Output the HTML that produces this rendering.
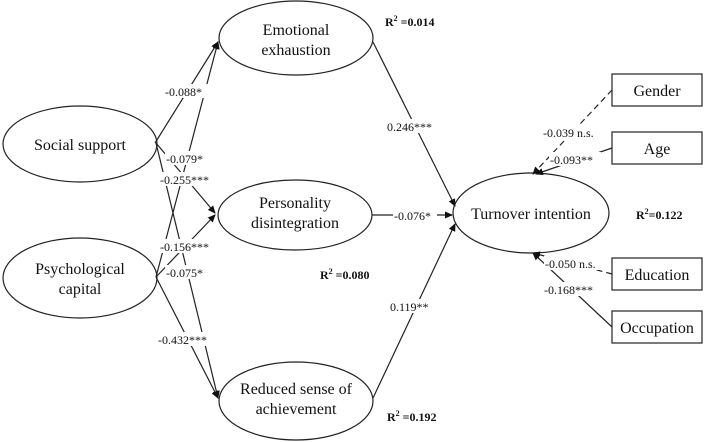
<!DOCTYPE html>
<html><head><meta charset="utf-8"><style>
body{margin:0;background:#fff}
svg{display:block}
text{font-family:"Liberation Serif",serif;fill:#111}
.n{font-size:16px;text-anchor:middle}
.l{font-size:12px}
.b{font-size:12px;font-weight:bold}
</style></head><body>
<svg width="708" height="442" viewBox="0 0 708 442" xmlns="http://www.w3.org/2000/svg">
<defs><marker id="a" markerWidth="8" markerHeight="8" refX="7" refY="4" orient="auto" markerUnits="userSpaceOnUse"><path d="M0,0.5 L8,4 L0,7.5z" fill="#111"/></marker></defs>
<g fill="none" stroke="#222" stroke-width="1.2">
<ellipse cx="296" cy="38" rx="77" ry="37"/>
<ellipse cx="295" cy="215" rx="77" ry="35"/>
<ellipse cx="296" cy="401" rx="77" ry="39"/>
<ellipse cx="80" cy="144" rx="77" ry="38"/>
<ellipse cx="80" cy="278" rx="77" ry="40"/>
<ellipse cx="531" cy="213" rx="78" ry="40"/>
<rect x="612" y="74" width="90" height="32"/>
<rect x="612" y="132" width="90" height="32"/>
<rect x="612" y="258" width="90" height="32"/>
<rect x="612" y="311" width="90" height="32"/>
<g marker-end="url(#a)">
<line x1="155" y1="143" x2="218" y2="42"/>
<line x1="156" y1="143" x2="215" y2="213"/>
<line x1="156" y1="143" x2="218" y2="398"/>
<line x1="156" y1="277" x2="218" y2="42"/>
<line x1="156" y1="277" x2="215" y2="215"/>
<line x1="156" y1="277" x2="218" y2="398"/>
<line x1="373" y1="42" x2="455" y2="206"/>
<line x1="372" y1="215" x2="452" y2="215"/>
<line x1="373" y1="398" x2="455" y2="224"/>
<line x1="612" y1="90" x2="533" y2="174" stroke-dasharray="6,4"/>
<line x1="612" y1="148" x2="536" y2="174"/>
<line x1="612" y1="274" x2="533" y2="253" stroke-dasharray="6,4"/>
<line x1="612" y1="327" x2="533" y2="253"/>
</g></g>
<g fill="#fff">
<rect x="164" y="84" width="44" height="14"/><rect x="165" y="151" width="42" height="14"/>
<rect x="159" y="172" width="56" height="14"/><rect x="159" y="239" width="56" height="14"/>
<rect x="165" y="265" width="42" height="14"/><rect x="157" y="332" width="56" height="14"/>
<rect x="386" y="119" width="52" height="14"/><rect x="393" y="208" width="44" height="14"/>
<rect x="389" y="299" width="46" height="14"/>
<rect x="542" y="125" width="66" height="14"/><rect x="549" y="152" width="52" height="14"/>
<rect x="544" y="256" width="66" height="14"/><rect x="543" y="282" width="58" height="14"/>
</g>
<text class="n" x="296" y="35">Emotional</text><text class="n" x="296" y="55">exhaustion</text>
<text class="n" x="295" y="208">Personality</text><text class="n" x="295" y="228">disintegration</text>
<text class="n" x="296" y="394">Reduced sense of</text><text class="n" x="296" y="414">achievement</text>
<text class="n" x="80" y="150">Social support</text>
<text class="n" x="80" y="274">Psychological</text><text class="n" x="80" y="294">capital</text>
<text class="n" x="531" y="219">Turnover intention</text>
<text class="n" x="657" y="96">Gender</text><text class="n" x="657" y="154">Age</text>
<text class="n" x="657" y="280">Education</text><text class="n" x="657" y="333">Occupation</text>
<text class="l" x="165" y="96">-0.088*</text><text class="l" x="166" y="163">-0.079*</text>
<text class="l" x="160" y="184">-0.255***</text><text class="l" x="160" y="251">-0.156***</text>
<text class="l" x="166" y="277">-0.075*</text><text class="l" x="158" y="344">-0.432***</text>
<text class="l" x="387" y="131">0.246***</text><text class="l" x="394" y="220">-0.076*</text>
<text class="l" x="390" y="311">0.119**</text>
<text class="l" x="543" y="137">-0.039 n.s.</text><text class="l" x="550" y="164">-0.093**</text>
<text class="l" x="545" y="268">-0.050 n.s.</text><text class="l" x="544" y="294">-0.168***</text>
<text class="b" x="385" y="26">R<tspan dy="-5" font-size="8">2</tspan><tspan dy="5"> =0.014</tspan></text>
<text class="b" x="320" y="279">R<tspan dy="-5" font-size="8">2</tspan><tspan dy="5"> =0.080</tspan></text>
<text class="b" x="387" y="421">R<tspan dy="-5" font-size="8">2</tspan><tspan dy="5">  =0.192</tspan></text>
<text class="b" x="636" y="219">R<tspan dy="-5" font-size="8">2</tspan><tspan dy="5">=0.122</tspan></text>
</svg>
</body></html>
